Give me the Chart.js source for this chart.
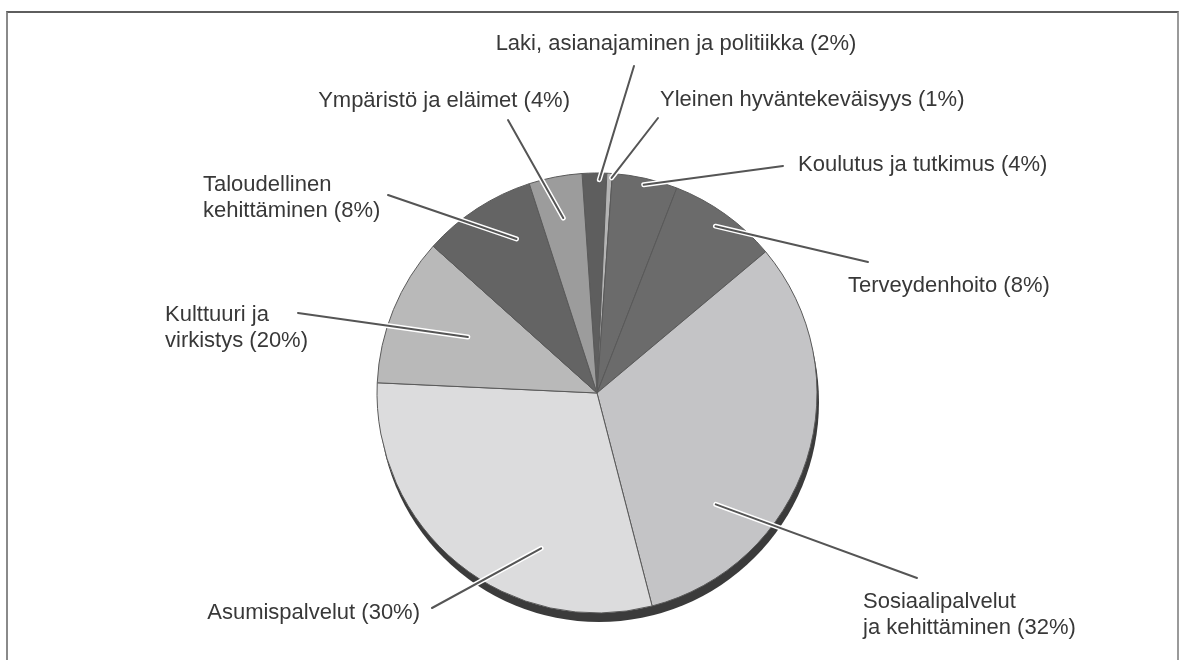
<!DOCTYPE html>
<html>
<head>
<meta charset="utf-8">
<script src="https://cdn.jsdelivr.net/npm/chart.js@4.4.1/dist/chart.umd.min.js"></script>
<style>
  html, body { margin: 0; padding: 0; background: #fff; }
  #wrap { position: relative; width: 1179px; height: 660px; overflow: hidden; }
  #frame { position: absolute; left: 6px; top: 11px; width: 1169px; height: 700px;
           border-left: 2px solid #8a8a8a; border-top: 2px solid #5e5e5e; border-right: 2px solid #9a9a9a; }
  canvas { position: absolute; left: 0; top: 0; }
</style>
</head>
<body>
<div id="wrap">
  <div id="frame"></div>
  <canvas id="myChart" width="1179" height="660"></canvas>
</div>
<script>
// slices, clockwise from the top
const categories = [
    ["Laki, asianajaminen ja politiikka"],
    ["Yleinen hyväntekeväisyys"],
    ["Koulutus ja tutkimus"],
    ["Terveydenhoito"],
    ["Sosiaalipalvelut", "ja kehittäminen"],
    ["Asumispalvelut"],
    ["Kulttuuri ja", "virkistys"],
    ["Taloudellinen", "kehittäminen"],
    ["Ympäristö ja eläimet"]
];
// percentages as printed in the labels
const statedPercent = [2, 1, 4, 8, 32, 30, 20, 8, 4];
const sliceShare = [1.8, 0.4, 4.8, 8.0, 32.1, 29.8, 10.9, 8.4, 3.9];

const sliceColors = ['#5e5e5e', '#b4b4b4', '#6b6b6b', '#6b6b6b', '#c4c4c6',
                     '#dcdcdd', '#b9b9b9', '#646464', '#9c9c9c'];

// where each leader starts inside its slice (t = share of slice angle, r = share of radius)
// and where it ends / where the text goes, as offsets from the pie centre
const labelLayout = [
    { t: 0.7,  r: 0.97, ex: 37,   ey: -327, tx: 79,   ty: -349, align: 'center' },
    { t: 0.9,  r: 0.98, ex: 61,   ey: -275, tx: 63,   ty: -293, align: 'left' },
    { t: 0.5,  r: 0.97, ex: 186,  ey: -227, tx: 201,  ty: -228, align: 'left' },
    { t: 0.49, r: 0.93, ex: 271,  ey: -131, tx: 251,  ty: -107, align: 'left' },
    { t: 0.72, r: 0.74, ex: 320,  ey: 185,  tx: 266,  ty: 209,  align: 'left' },
    { t: 0.32, r: 0.75, ex: -165, ey: 215,  tx: -177, ty: 220,  align: 'right' },
    { t: 0.53, r: 0.64, ex: -299, ey: -80,  tx: -432, ty: -78,  align: 'left' },
    { t: 0.68, r: 0.79, ex: -209, ey: -198, tx: -394, ty: -208, align: 'left' },
    { t: 0.5,  r: 0.81, ex: -89,  ey: -273, tx: -27,  ty: -292, align: 'right' }
];

const pieShadow = {
    id: 'pieShadow',
    beforeDatasetsDraw(chart) {
        const arc = chart.getDatasetMeta(0).data[0];
        if (!arc) return;
        const ctx = chart.ctx;
        ctx.save();
        ctx.fillStyle = '#3b3b3b';
        ctx.beginPath();
        ctx.arc(arc.x + 2, arc.y + 9, arc.outerRadius, 0, Math.PI * 2);
        ctx.fill();
        ctx.restore();
    }
};

const leaderLabels = {
    id: 'leaderLabels',
    afterDatasetsDraw(chart) {
        const ctx = chart.ctx;
        const arcs = chart.getDatasetMeta(0).data;
        ctx.save();
        ctx.lineCap = 'round';
        arcs.forEach((arc, i) => {
            const L = labelLayout[i];
            const a = arc.startAngle + (arc.endAngle - arc.startAngle) * L.t;
            const x0 = arc.x + Math.cos(a) * arc.outerRadius * L.r;
            const y0 = arc.y + Math.sin(a) * arc.outerRadius * L.r;
            const x1 = arc.x + L.ex;
            const y1 = arc.y + L.ey;
            ctx.beginPath();
            ctx.moveTo(x0, y0);
            ctx.lineTo(x1, y1);
            ctx.strokeStyle = '#ffffff';
            ctx.lineWidth = 5;
            ctx.stroke();
            ctx.strokeStyle = '#555555';
            ctx.lineWidth = 2;
            ctx.stroke();
        });
        ctx.font = '22px "Liberation Sans", Arial, sans-serif';
        ctx.fillStyle = '#383838';
        ctx.textBaseline = 'middle';
        arcs.forEach((arc, i) => {
            const L = labelLayout[i];
            const lines = categories[i].slice();
            lines[lines.length - 1] += ' (' + statedPercent[i] + '%)';
            ctx.textAlign = L.align;
            lines.forEach((line, k) => {
                ctx.fillText(line, arc.x + L.tx, arc.y + L.ty + k * 26);
            });
        });
        ctx.restore();
    }
};

const ctx = document.getElementById('myChart').getContext('2d');
new Chart(ctx, {
    type: 'pie',
    data: {
        labels: categories.map(c => c.join(' ')),
        datasets: [{
            data: sliceShare,
            backgroundColor: sliceColors,
            borderColor: '#5a5a5a',
            borderWidth: 1
        }]
    },
    options: {
        responsive: false,
        animation: false,
        rotation: -3.9,
        radius: 220,
        layout: { padding: { left: 15, right: 0, top: 173, bottom: 47 } },
        plugins: {
            legend: { display: false },
            tooltip: { enabled: false }
        }
    },
    plugins: [pieShadow, leaderLabels]
});
</script>
</body>
</html>
